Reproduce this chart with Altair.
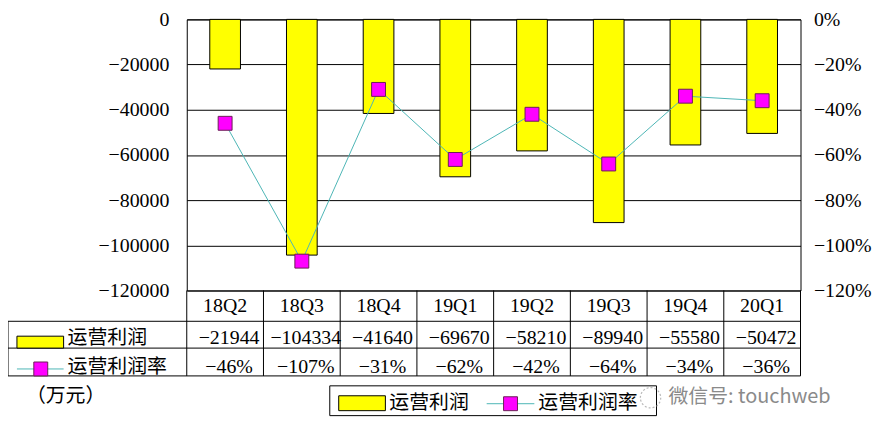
import altair as alt
import pandas as pd

# ---------------- data ----------------
quarters = ["18Q2", "18Q3", "18Q4", "19Q1", "19Q2", "19Q3", "19Q4", "20Q1"]
profit = [-21944, -104334, -41640, -69670, -58210, -89940, -55580, -50472]
rate = [-46, -107, -31, -62, -42, -64, -34, -36]
profit_ticks = [0, -20000, -40000, -60000, -80000, -100000, -120000]
rate_ticks = [0, -20, -40, -60, -80, -100, -120]
series_names = ["运营利润", "运营利润率"]
unit_label = "（万元）"
watermark = "微信号: touchweb"

# ---------------- layout / style ----------------
W, H = 618, 273
FONT = "Liberation Serif, Noto Sans CJK SC"
FS = 20
BAR = "#FFFF00"
LINE = "#4DB5B5"
MARK = "#FF00FF"
MARK_STROKE = "#6B1F55"

df = pd.DataFrame({"q": quarters, "profit": profit, "rate": rate})
df["rate_txt"] = [("\u2212" if r < 0 else "") + f"{abs(r)}%" for r in rate]
one = pd.DataFrame({"k": [0]})

xenc = alt.X("q:N", sort=quarters,
             scale=alt.Scale(paddingInner=0, paddingOuter=0), axis=None)

bars = alt.Chart(df).mark_bar(
    color=BAR, stroke="black", strokeWidth=1, width=alt.RelativeBandSize(0.4)
).encode(
    x=xenc,
    y=alt.Y("profit:Q", scale=alt.Scale(domain=[-120000, 0], nice=False),
            axis=alt.Axis(values=profit_ticks, format="d", title=None,
                          labelFont=FONT, labelFontSize=FS, labelColor="black",
                          ticks=False, domain=False, grid=True,
                          gridColor="black", gridOpacity=1, gridWidth=1,
                          labelPadding=18, labelFlush=False, labelOverlap=False)),
)

right_axis = alt.Axis(values=rate_ticks, orient="right", title=None,
                      labelExpr="(datum.value < 0 ? '\u2212' : '') + abs(datum.value) + '%'",
                      labelFont=FONT, labelFontSize=FS, labelColor="black",
                      ticks=False, domain=False, grid=False,
                      labelPadding=13, labelFlush=False, labelOverlap=False)
yrate = alt.Y("rate:Q", scale=alt.Scale(domain=[-120, 0], nice=False), axis=right_axis)

line = alt.Chart(df).mark_line(color=LINE, strokeWidth=1).encode(x=xenc, y=yrate)
pts = alt.Chart(df).mark_square(
    size=196, color=MARK, stroke=MARK_STROKE, strokeWidth=1, opacity=1
).encode(x=xenc, y=yrate)

rate_layer = alt.layer(line, pts)

# ---------------- data table below the plot ----------------
txt = dict(font=FONT, fontSize=FS, color="black", baseline="middle")
hdr = alt.Chart(df).mark_text(**txt).encode(x=xenc, y=alt.value(H + 16), text="q:N")
row1 = alt.Chart(df).mark_text(dx=4, **txt).encode(
    x=xenc, y=alt.value(H + 48), text=alt.Text("profit:Q", format="d"))
row2 = alt.Chart(df).mark_text(dx=4, **txt).encode(
    x=xenc, y=alt.value(H + 77), text="rate_txt:N")

vlines = alt.Chart(df).mark_rule(color="black", strokeWidth=1).encode(
    x=alt.X("q:N", sort=quarters, bandPosition=0,
            scale=alt.Scale(paddingInner=0, paddingOuter=0), axis=None),
    y=alt.value(H), y2=alt.value(H + 86))


def rule(**e):
    return alt.Chart(one).mark_rule(color="black", strokeWidth=1).encode(**e)


tlines = alt.layer(
    rule(x=alt.value(W), y=alt.value(H), y2=alt.value(H + 86)),
    rule(x=alt.value(-180), y=alt.value(H + 31), y2=alt.value(H + 86)),
    rule(x=alt.value(-180), x2=alt.value(W), y=alt.value(H + 31)),
    rule(x=alt.value(-180), x2=alt.value(W), y=alt.value(H + 58)),
    rule(x=alt.value(-180), x2=alt.value(W), y=alt.value(H + 86)),
)

# row keys
key1 = alt.Chart(one).mark_rect(fill=BAR, stroke="black", strokeWidth=1).encode(
    x=alt.value(-171), x2=alt.value(-124), y=alt.value(H + 46), y2=alt.value(H + 58))
key2l = alt.Chart(one).mark_rule(color=LINE, strokeWidth=1).encode(
    x=alt.value(-171), x2=alt.value(-124), y=alt.value(H + 79))
key2p = alt.Chart(one).mark_square(size=196, color=MARK, stroke=MARK_STROKE,
                                   strokeWidth=1, opacity=1).encode(
    x=alt.value(-147), y=alt.value(H + 79))
ktxt = dict(font=FONT, fontSize=FS, color="black", baseline="middle", align="left")
k1t = alt.Chart(one).mark_text(text=series_names[0], **ktxt).encode(
    x=alt.value(-120), y=alt.value(H + 48))
k2t = alt.Chart(one).mark_text(text=series_names[1], **ktxt).encode(
    x=alt.value(-120), y=alt.value(H + 77))
unit = alt.Chart(one).mark_text(text=unit_label, **ktxt).encode(
    x=alt.value(-162), y=alt.value(H + 106))

# ---------------- bottom legend ----------------
LY = H + 113
lbox = alt.Chart(one).mark_rect(fill="white", stroke="black", strokeWidth=1).encode(
    x=alt.value(144), x2=alt.value(473), y=alt.value(LY - 17), y2=alt.value(LY + 13))
lk1 = alt.Chart(one).mark_rect(fill=BAR, stroke="black", strokeWidth=1).encode(
    x=alt.value(153), x2=alt.value(200), y=alt.value(LY - 7), y2=alt.value(LY + 8))
lt1 = alt.Chart(one).mark_text(text=series_names[0], **ktxt).encode(
    x=alt.value(204), y=alt.value(LY))
lk2l = alt.Chart(one).mark_rule(color=LINE, strokeWidth=1).encode(
    x=alt.value(302), x2=alt.value(350), y=alt.value(LY + 1))
lk2p = alt.Chart(one).mark_square(size=196, color=MARK, stroke=MARK_STROKE,
                                  strokeWidth=1, opacity=1).encode(
    x=alt.value(326), y=alt.value(LY + 1))
lt2 = alt.Chart(one).mark_text(text=series_names[1], **ktxt).encode(
    x=alt.value(354), y=alt.value(LY))

# watermark
wm_icon = alt.Chart(one).mark_point(shape="circle", size=420, filled=False,
                                    color="#9a9a9a", strokeWidth=1.2,
                                    strokeDash=[2, 2]).encode(
    x=alt.value(467), y=alt.value(LY - 5))
wm = alt.Chart(one).mark_text(text=watermark, font="Noto Sans CJK SC", fontSize=20,
                              color="#8a8a8a", baseline="middle", align="left").encode(
    x=alt.value(485), y=alt.value(LY - 6))

main = alt.layer(bars, rate_layer).resolve_scale(y="independent")

chart = alt.layer(
    main, hdr, row1, row2, vlines, tlines, key1, key2l, key2p, k1t, k2t, unit,
    lbox, lk1, lt1, lk2l, lk2p, lt2, wm_icon, wm,
).properties(
    width=W, height=H,
    padding={"left": 180, "top": 10, "right": 74, "bottom": 138},
    autosize=alt.AutoSizeParams(type="none"),
    background="white",
).configure_view(stroke="black", strokeWidth=1)

chart.save("out.html", embed_options={"renderer": "svg", "actions": False})
